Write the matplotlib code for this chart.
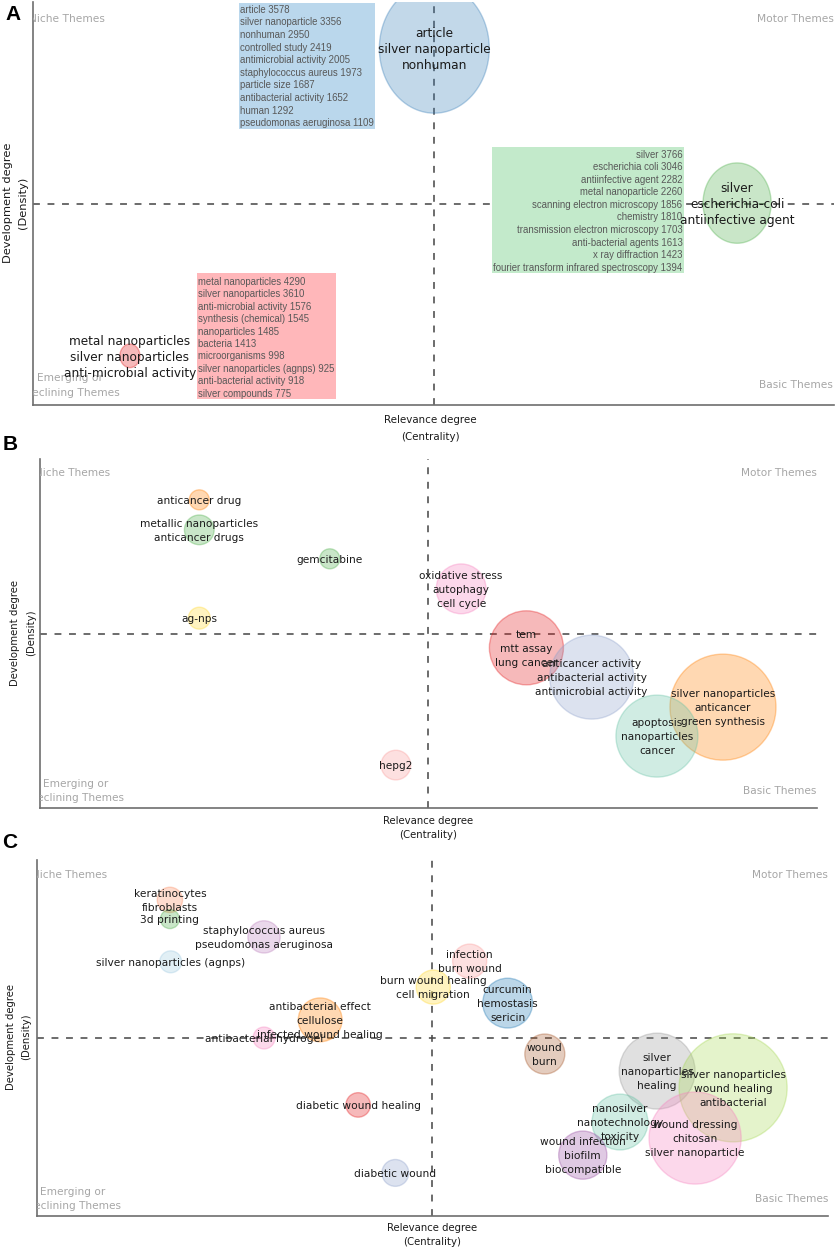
import matplotlib
matplotlib.use("Agg")
import matplotlib.pyplot as plt
from matplotlib.patches import Rectangle
from matplotlib.path import Path
import numpy as np

W, H, DPI = 837, 1251, 100

# ---------------- Panel A data ----------------
a_labels = ["article\nsilver nanoparticle\nnonhuman",
            "silver\nescherichia-coli\nantiinfective agent",
            "metal nanoparticles\nsilver nanoparticles\nanti-microbial activity"]
a_centrality = [0.501, 0.879, 0.121]
a_density = [0.885, 0.501, 0.122]
a_freq = [302, 116, 10]
a_colors = ["#377EB8", "#4DAF4A", "#E41A1C"]

a_blue_words = ["article", "silver nanoparticle", "nonhuman", "controlled study",
                "antimicrobial activity", "staphylococcus aureus", "particle size",
                "antibacterial activity", "human", "pseudomonas aeruginosa"]
a_blue_counts = [3578, 3356, 2950, 2419, 2005, 1973, 1687, 1652, 1292, 1109]

a_green_words = ["silver", "escherichia coli", "antiinfective agent", "metal nanoparticle",
                 "scanning electron microscopy", "chemistry", "transmission electron microscopy",
                 "anti-bacterial agents", "x ray diffraction", "fourier transform infrared spectroscopy"]
a_green_counts = [3766, 3046, 2282, 2260, 1856, 1810, 1703, 1613, 1423, 1394]

a_red_words = ["metal nanoparticles", "silver nanoparticles", "anti-microbial activity",
               "synthesis (chemical)", "nanoparticles", "bacteria", "microorganisms",
               "silver nanoparticles (agnps)", "anti-bacterial activity", "silver compounds"]
a_red_counts = [4290, 3610, 1576, 1545, 1485, 1413, 998, 925, 918, 775]

# ---------------- Panel B data ----------------
b_labels = ["anticancer drug", "metallic nanoparticles\nanticancer drugs", "gemcitabine",
            "ag-nps", "hepg2", "oxidative stress\nautophagy\ncell cycle",
            "tem\nmtt assay\nlung cancer",
            "anticancer activity\nantibacterial activity\nantimicrobial activity",
            "silver nanoparticles\nanticancer\ngreen synthesis",
            "apoptosis\nnanoparticles\ncancer"]
b_centrality = [0.205, 0.205, 0.373, 0.205, 0.458, 0.542, 0.626, 0.710, 0.879, 0.794]
b_density = [0.883, 0.797, 0.714, 0.544, 0.123, 0.628, 0.459, 0.375, 0.289, 0.206]
b_freq = [10, 22, 10, 12, 22, 62, 137, 176, 281, 168]
b_colors = ["#FF7F00", "#4DAF4A", "#4DAF4A", "#FFD92F", "#FB9A99", "#F781BF",
            "#E41A1C", "#8DA0CB", "#FF7F00", "#66C2A5"]

# ---------------- Panel C data ----------------
c_labels = ["keratinocytes\nfibroblasts", "3d printing",
            "staphylococcus aureus\npseudomonas aeruginosa", "silver nanoparticles (agnps)",
            "antibacterial effect\ncellulose\ninfected wound healing", "antibacterial hydrogel",
            "diabetic wound healing", "diabetic wound", "burn wound healing\ncell migration",
            "infection\nburn wound", "curcumin\nhemostasis\nsericin", "wound\nburn",
            "silver\nnanoparticles\nhealing", "silver nanoparticles\nwound healing\nantibacterial",
            "wound dressing\nchitosan\nsilver nanoparticle", "nanosilver\nnanotechnology\ntoxicity",
            "wound infection\nbiofilm\nbiocompatible"]
c_centrality = [0.168, 0.168, 0.287, 0.169, 0.358, 0.287, 0.406, 0.453, 0.501, 0.547,
                0.595, 0.642, 0.784, 0.880, 0.832, 0.737, 0.690]
c_density = [0.888, 0.834, 0.784, 0.714, 0.551, 0.500, 0.312, 0.121, 0.643, 0.716,
             0.598, 0.455, 0.407, 0.360, 0.219, 0.264, 0.171]
c_freq = [16, 9, 26, 12, 48, 12, 15, 18, 29, 29, 62, 40, 144, 292, 212, 78, 58]
c_colors = ["#FC8D62", "#4DAF4A", "#BC80BD", "#9ECAE1", "#FF7F00", "#F781BF", "#E41A1C",
            "#8DA0CB", "#FFD92F", "#FB9A99", "#1F78B4", "#A65628", "#999999", "#A6D854",
            "#F781BF", "#66C2A5", "#984EA3"]

fig = plt.figure(figsize=(W / DPI, H / DPI), dpi=DPI)
fig.patch.set_facecolor("white")

TXT = "#1a1a1a"
QUAD = "#a6a6a6"


def fx(px):
    return px / W


def fy(py):
    return 1 - py / H


def ellipse_marker(stretch):
    t = np.linspace(0, 2 * np.pi, 101)
    verts = np.column_stack([np.cos(t), stretch * np.sin(t)])
    return Path(verts, closed=True)


def add_panel(l, t, r, b):
    ax = fig.add_axes([l / W, 1 - b / H, (r - l) / W, (b - t) / H])
    ax.set_xlim(0, 1)
    ax.set_ylim(0, 1)
    ax.set_xticks([])
    ax.set_yticks([])
    ax.patch.set_alpha(0)
    for s in ["top", "right"]:
        ax.spines[s].set_visible(False)
    for s in ["left", "bottom"]:
        ax.spines[s].set_color("#6e6e6e")
        ax.spines[s].set_linewidth(1.2)
    ax.axvline(0.5, color="#444444", lw=1.1, dashes=(4.5, 5), zorder=1)
    ax.axhline(0.5, color="#444444", lw=1.1, dashes=(4.5, 5), zorder=1)
    return ax


def bubbles(ax, xs, ys, freq, colors, fs, spacing_px, labels, stretch=1.0):
    r = np.sqrt(np.array(freq) * 10.0)
    if stretch == 1.0:
        marker = "o"
        s = (2 * r * 0.72) ** 2
    else:
        marker = ellipse_marker(stretch)
        s = (2 * r * stretch * 0.72) ** 2
    for x, y, si, c in zip(xs, ys, s, colors):
        ax.scatter([x], [y], s=si, color=c, alpha=0.3, edgecolors="none",
                   marker=marker, zorder=2)
        ax.scatter([x], [y], s=si, facecolors="none", edgecolors=c, alpha=0.35,
                   linewidths=1.0, marker=marker, zorder=2)
    for x, y, lab in zip(xs, ys, labels):
        lines = lab.split("\n")
        n = len(lines)
        for i, line in enumerate(lines):
            off = ((n - 1) / 2 - i) * spacing_px * 0.72
            ax.annotate(line, (x, y), xytext=(0, off), textcoords="offset points",
                        ha="center", va="center_baseline", fontsize=fs, color=TXT,
                        zorder=5, annotation_clip=False)


def quad_labels(ax, niche, motor, basic, emerg, decl, fs):
    kw = dict(transform=fig.transFigure, clip_on=True, color=QUAD, fontsize=fs,
              va="center")
    ax.text(fx(niche[0]), fy(niche[1]), "Niche Themes", ha="left", **kw)
    ax.text(fx(motor[0]), fy(motor[1]), "Motor Themes", ha="right", **kw)
    ax.text(fx(basic[0]), fy(basic[1]), "Basic Themes", ha="right", **kw)
    ax.text(fx(emerg[0]), fy(emerg[1]), "Emerging or", ha="left", **kw)
    ax.text(fx(decl[0]), fy(decl[1]), "Declining Themes", ha="left", **kw)


def axis_labels(xc, y1, y2, x1, x2, yc, fsx, fsy):
    fig.text(fx(xc), fy(y1), "Relevance degree", ha="center", va="center",
             fontsize=fsx, color=TXT)
    fig.text(fx(xc), fy(y2), "(Centrality)", ha="center", va="center",
             fontsize=fsx, color=TXT)
    fig.text(fx(x1), fy(yc), "Development degree", ha="center", va="center",
             rotation=90, fontsize=fsy, color=TXT)
    fig.text(fx(x2), fy(yc), "(Density)", ha="center", va="center",
             rotation=90, fontsize=fsy, color=TXT)


def word_box(ax, left, top, right, bottom, face, words, counts, first_y, step,
             align, fs):
    ax.add_patch(Rectangle((fx(left), fy(bottom)), fx(right) - fx(left),
                           fy(top) - fy(bottom), transform=fig.transFigure,
                           facecolor=face, edgecolor="none", zorder=3))
    for i, (w, c) in enumerate(zip(words, counts)):
        xx = left + 1.5 if align == "left" else right - 1.5
        ax.text(fx(xx), fy(first_y + i * step), f"{w} {c}", transform=fig.transFigure,
                ha=align, va="center", fontsize=fs, color="#585858",
                family="Liberation Sans", zorder=4)


# ================= Panel A =================
axA = add_panel(33, 2, 834, 405)
bubbles(axA, a_centrality, a_density, a_freq, a_colors, 8.7, 16, a_labels, stretch=1.18)
word_box(axA, 239, 3, 375, 129, "#bad7ec", a_blue_words, a_blue_counts, 9.8, 12.6, "left", 6.9)
word_box(axA, 492, 147, 684, 273, "#c3eacb", a_green_words, a_green_counts, 154.5, 12.6, "right", 6.9)
word_box(axA, 197, 273, 336, 399, "#ffb7ba", a_red_words, a_red_counts, 282, 12.4, "left", 6.9)
quad_labels(axA, (29, 19), (834, 19), (833, 385), (37, 378), (24, 393), 7.7)
axis_labels(430, 420, 437, 8, 23, 203, 7.4, 8.2)
fig.text(fx(13), fy(15), "A", ha="center", va="center", fontsize=15,
         fontweight="bold", family="Liberation Sans")

# ================= Panel B =================
axB = add_panel(40, 459, 817, 808)
bubbles(axB, b_centrality, b_density, b_freq, b_colors, 7.6, 14, b_labels)
quad_labels(axB, (35, 473), (817, 473), (816, 791), (43, 784), (29, 798), 7.6)
axis_labels(428, 821, 835, 15.5, 31, 633, 7.3, 7.3)
fig.text(fx(10), fy(444), "B", ha="center", va="center", fontsize=15,
         fontweight="bold", family="Liberation Sans")

# ================= Panel C =================
axC = add_panel(37, 860, 828, 1216)
bubbles(axC, c_centrality, c_density, c_freq, c_colors, 7.7, 14, c_labels)
quad_labels(axC, (32, 875), (828, 875), (828, 1199), (40, 1192), (26, 1206), 7.6)
axis_labels(432, 1228, 1242, 11, 26, 1037, 7.3, 7.3)
fig.text(fx(10), fy(843), "C", ha="center", va="center", fontsize=15,
         fontweight="bold", family="Liberation Sans")

fig.savefig("out.png", dpi=DPI)
